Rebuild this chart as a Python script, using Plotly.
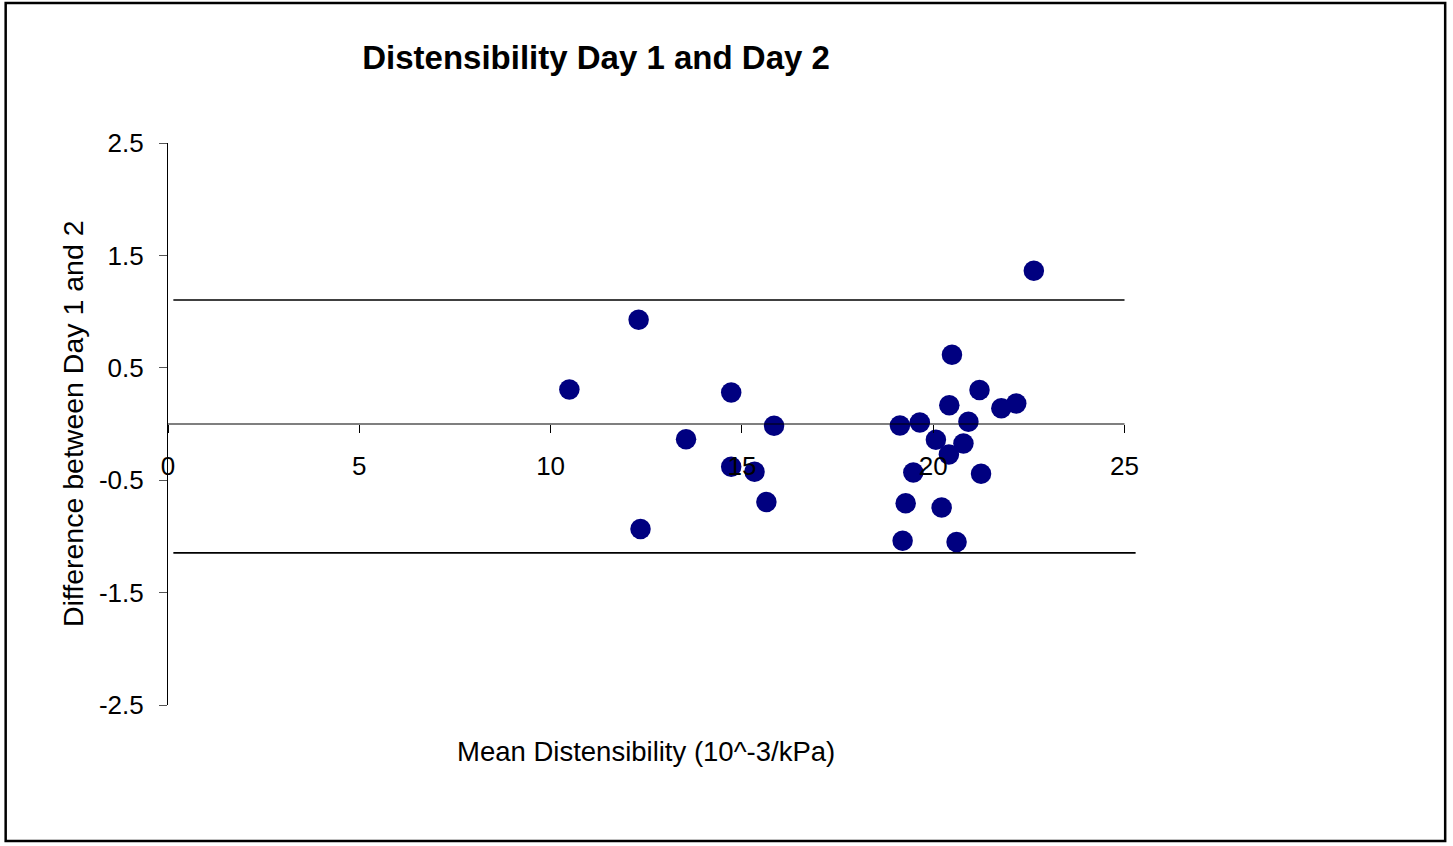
import plotly.graph_objects as go

# Data (Bland-Altman style plot)
mean_distensibility = [10.49, 12.30, 12.35, 13.54, 14.72, 14.72, 15.33, 15.64, 15.84,
                       22.63, 20.49, 21.21, 20.42, 21.78, 22.17, 19.13, 19.65, 20.92,
                       20.07, 20.79, 20.41, 19.48, 21.25, 19.28, 20.22, 19.20, 20.61]
difference_day1_day2 = [0.306, 0.928, -0.934, -0.135, 0.280, -0.380, -0.425, -0.694, -0.016,
                        1.363, 0.617, 0.303, 0.167, 0.140, 0.182, -0.013, 0.013, 0.019,
                        -0.141, -0.173, -0.271, -0.431, -0.443, -0.706, -0.742, -1.038, -1.050]

upper_limit_x = [0.14, 25.0]
upper_limit_y = [1.103, 1.103]
lower_limit_x = [0.14, 25.29]
lower_limit_y = [-1.147, -1.147]

x_tick_vals = [0, 5, 10, 15, 20, 25]
y_tick_vals = [2.5, 1.5, 0.5, -0.5, -1.5, -2.5]
y_tick_text = ["2.5", "1.5", "0.5", "-0.5", "-1.5", "-2.5"]

W, H = 1453, 846
L, R = 167.5, 1136.5
T, B = 143, 705
pw, ph = R - L, B - T


def px2paper_x(px):
    return (px - L) / pw


def px2paper_y(py):
    return (B - py) / ph


fig = go.Figure()

fig.add_trace(go.Scatter(x=upper_limit_x, y=upper_limit_y, mode="lines",
                         line=dict(color="black", width=1.6), hoverinfo="skip",
                         showlegend=False))
fig.add_trace(go.Scatter(x=lower_limit_x, y=lower_limit_y, mode="lines",
                         line=dict(color="black", width=1.6), hoverinfo="skip",
                         showlegend=False))
fig.add_trace(go.Scatter(x=mean_distensibility, y=difference_day1_day2, mode="markers",
                         marker=dict(color="#000080", size=20.5, line=dict(width=0)),
                         showlegend=False, cliponaxis=False))

font_family = "Liberation Sans, Arial, sans-serif"

fig.update_layout(
    width=W, height=H,
    margin=dict(l=L, r=W - R, t=T, b=H - B, pad=0),
    paper_bgcolor="white", plot_bgcolor="white",
    font=dict(family=font_family, color="black"),
    title=dict(text="<b>Distensibility Day 1 and Day 2</b>",
               font=dict(size=33, family=font_family, color="black"),
               xref="paper", x=px2paper_x(596), xanchor="center",
               yref="container", y=1 - 57 / H, yanchor="middle"),
    xaxis=dict(range=[0, 25.3], anchor="free", position=0.5,
               tickmode="array", tickvals=x_tick_vals, ticktext=[str(v) for v in x_tick_vals],
               ticks="outside", ticklen=8, tickcolor="black", tickwidth=1,
               showline=False, showgrid=False, zeroline=False,
               tickfont=dict(size=26, family=font_family, color="black"),
               ticklabelstandoff=11),
    yaxis=dict(range=[-2.5, 2.5], tickmode="array", tickvals=y_tick_vals, ticktext=y_tick_text,
               ticks="outside", ticklen=8, tickcolor="#555555", tickwidth=1,
               showline=True, linecolor="black", linewidth=1.2,
               showgrid=False, zeroline=False,
               tickfont=dict(size=26, family=font_family, color="black"),
               ticklabelstandoff=10),
)

# x-axis line crossing at y = 0, spanning 0..25
fig.add_shape(type="line", xref="x", yref="y", x0=0, x1=25, y0=0, y1=0,
              line=dict(color="black", width=1.2), layer="above")

# axis titles
fig.add_annotation(text="Mean Distensibility (10^-3/kPa)", xref="paper", yref="paper",
                   x=px2paper_x(646), y=px2paper_y(752), xanchor="center", yanchor="middle",
                   showarrow=False, font=dict(size=27.5, family=font_family, color="black"))
fig.add_annotation(text="Difference between Day 1 and 2", xref="paper", yref="paper",
                   x=px2paper_x(72), y=px2paper_y(423.5), xanchor="center", yanchor="middle",
                   textangle=-90, showarrow=False,
                   font=dict(size=28.5, family=font_family, color="black"))

# outer chart border
fig.add_shape(type="rect", xref="paper", yref="paper",
              x0=px2paper_x(5), x1=px2paper_x(1446), y0=px2paper_y(841), y1=px2paper_y(3),
              line=dict(color="black", width=2.5), fillcolor="rgba(0,0,0,0)", layer="below")

fig.write_html("out.html", config={"displayModeBar": False},
               post_script="document.body.style.margin='0';document.body.style.overflow='hidden';")
